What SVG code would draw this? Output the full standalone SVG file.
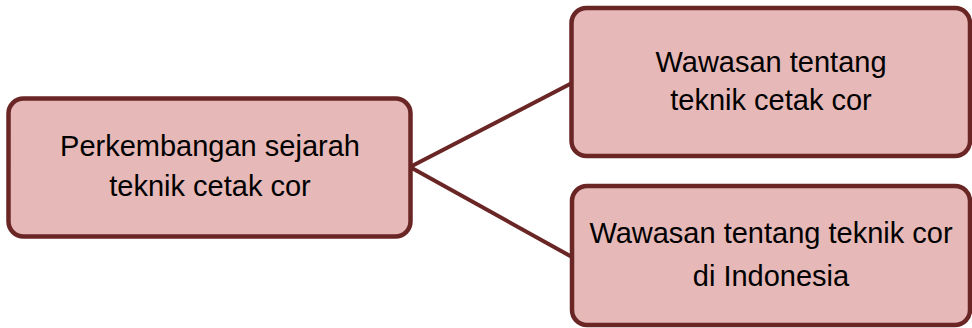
<svg xmlns="http://www.w3.org/2000/svg" width="972" height="328" viewBox="0 0 972 328">
<style>
.box{fill:#E6B8B7;stroke:#6A2525;stroke-width:4.5}
.t{font-family:"Liberation Sans",Arial,sans-serif;font-size:29px;fill:#000;text-anchor:middle}
.c{stroke:#6A2525;stroke-width:4;fill:none}
</style>
<rect width="972" height="328" fill="#fff"/>
<g id="connectors">
<line class="c" x1="410" y1="167" x2="572" y2="83"/>
<line class="c" x1="410" y1="167" x2="572" y2="257"/>
</g>
<g id="n1">
<rect class="box" x="8.5" y="98.5" width="402" height="138" rx="15"/>
<text class="t" x="210" y="156">Perkembangan sejarah</text>
<text class="t" x="210" y="196">teknik cetak cor</text>
</g>
<g id="n2">
<rect class="box" x="571.5" y="8" width="398.5" height="148" rx="15"/>
<text class="t" x="771" y="72">Wawasan tentang</text>
<text class="t" x="771" y="110">teknik cetak cor</text>
</g>
<g id="n3">
<rect class="box" x="572" y="186" width="398" height="139" rx="15"/>
<text class="t" x="771" y="243">Wawasan tentang teknik cor</text>
<text class="t" x="771" y="286">di Indonesia</text>
</g>
</svg>
